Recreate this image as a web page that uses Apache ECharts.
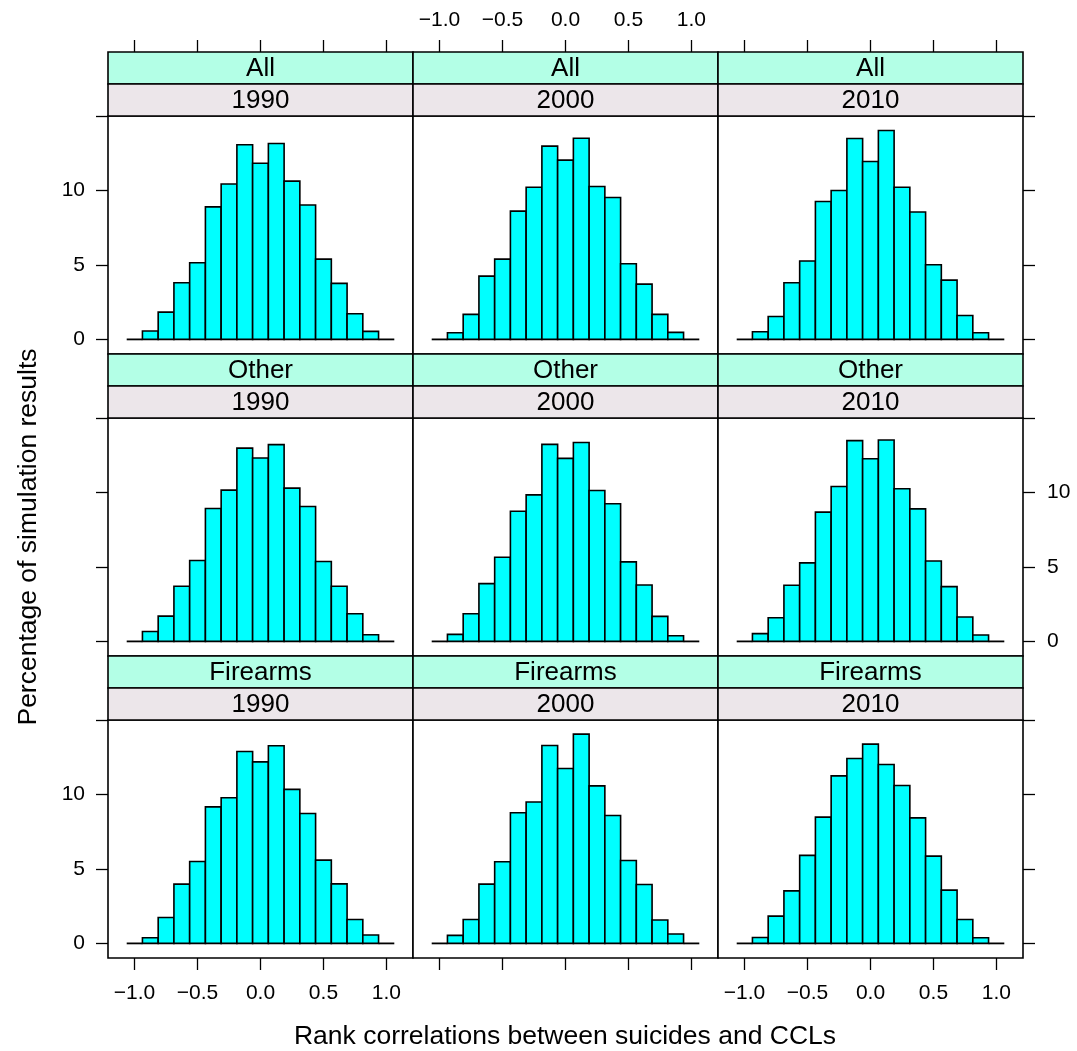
<!DOCTYPE html>
<html>
<head>
<meta charset="utf-8">
<script src="https://cdn.jsdelivr.net/npm/echarts@6/dist/echarts.min.js"></script>
<style>
html,body{margin:0;padding:0;background:#fff;}
#chart{width:1077px;height:1051px;}
</style>
</head>
<body>
<div id="chart"></div>
<script>
// ---------- data ----------
const causes = ['All', 'Other', 'Firearms'];
const years = ['1990', '2000', '2010'];
const binCenters = [-1.0, -0.875, -0.75, -0.625, -0.5, -0.375, -0.25, -0.125, 0.0,
                    0.125, 0.25, 0.375, 0.5, 0.625, 0.75, 0.875, 1.0];
const xTicks = [-1.0, -0.5, 0.0, 0.5, 1.0];
const yTicks = [0, 5, 10];
const yTickMarks = [0, 5, 10, 15];

const all1990 = [0, 0.56, 1.83, 3.80, 5.15, 8.90, 10.43, 13.07, 11.83, 13.15, 10.63, 9.02, 5.39, 3.76, 1.72, 0.54, 0];
const all2000 = [0, 0.45, 1.68, 4.25, 5.39, 8.61, 10.22, 12.98, 12.04, 13.51, 10.27, 9.53, 5.08, 3.71, 1.68, 0.47, 0];
const all2010 = [0, 0.51, 1.54, 3.80, 5.26, 9.26, 10.00, 13.49, 11.95, 14.03, 10.22, 8.55, 5.01, 3.98, 1.61, 0.45, 0];
const other1990 = [0, 0.67, 1.70, 3.70, 5.43, 8.92, 10.16, 12.98, 12.31, 13.21, 10.29, 9.06, 5.36, 3.70, 1.86, 0.45, 0];
const other2000 = [0, 0.47, 1.86, 3.88, 5.65, 8.74, 9.84, 13.23, 12.29, 13.36, 10.13, 9.24, 5.34, 3.79, 1.68, 0.38, 0];
const other2010 = [0, 0.52, 1.59, 3.77, 5.27, 8.68, 10.40, 13.48, 12.26, 13.52, 10.25, 8.90, 5.40, 3.68, 1.64, 0.43, 0];
const firearms1990 = [0, 0.38, 1.74, 3.98, 5.50, 9.17, 9.78, 12.89, 12.19, 13.27, 10.34, 8.72, 5.59, 4.00, 1.61, 0.56, 0];
const firearms2000 = [0, 0.54, 1.61, 3.98, 5.48, 8.77, 9.49, 13.29, 11.74, 14.05, 10.58, 8.59, 5.57, 3.96, 1.57, 0.63, 0];
const firearms2010 = [0, 0.40, 1.83, 3.53, 5.91, 8.48, 11.25, 12.42, 13.38, 12.01, 10.60, 8.43, 5.86, 3.58, 1.61, 0.38, 0];

const panelValues = [
  [all1990, all2000, all2010],
  [other1990, other2000, other2010],
  [firearms1990, firearms2000, firearms2010]
];

// ---------- layout / style ----------
const FONT = '"Liberation Sans", Arial, Helvetica, sans-serif';
const panelLeft0 = 108, panelW = 305, panelH = 238;
const rowTops = [116, 418, 720];
const stripH = 32;
const xMin = -1.211, xMax = 1.211;
const yMin = -0.98, yMax = 15;
const binW = binCenters[1] - binCenters[0];
const tickLen = 12;
const tickStyle = { color: '#000', width: 1.3 };
const labelStyle = { color: '#000', fontSize: 21, fontFamily: FONT };
const stripColors = ['#b3ffe6', '#ece6ea'];

function fmtX(v) {
  const s = Math.abs(v).toFixed(1);
  return v < 0 ? '\u2212' + s : s;
}

const grids = [], xAxes = [], yAxes = [], series = [], graphics = [];

for (let r = 0; r < 3; r++) {
  for (let c = 0; c < 3; c++) {
    const gi = grids.length;
    const left = panelLeft0 + panelW * c;
    const top = rowTops[r];
    grids.push({ left: left, top: top, width: panelW, height: panelH,
      show: true, borderColor: '#000', borderWidth: 1.6, backgroundColor: '#fff' });

    // bottom x axis
    const xi = xAxes.length;
    xAxes.push({
      gridIndex: gi, type: 'value', min: xMin, max: xMax, position: 'bottom',
      axisLine: { show: false, onZero: false }, splitLine: { show: false },
      axisTick: { show: r === 2, customValues: xTicks, length: tickLen, lineStyle: tickStyle },
      axisLabel: Object.assign({ show: r === 2 && c !== 1, customValues: xTicks, formatter: fmtX, margin: 25 }, labelStyle)
    });
    // top x axis (above strips) for first row
    if (r === 0) {
      xAxes.push({
        gridIndex: gi, type: 'value', min: xMin, max: xMax, position: 'top', offset: stripH * 2,
        axisLine: { show: false, onZero: false }, splitLine: { show: false },
        axisTick: { show: true, customValues: xTicks, length: tickLen, lineStyle: tickStyle },
        axisLabel: Object.assign({ show: c === 1, customValues: xTicks, formatter: fmtX, margin: 21 }, labelStyle)
      });
    }
    // y axis
    const yi = yAxes.length;
    if (c === 0) {
      yAxes.push({
        gridIndex: gi, type: 'value', min: yMin, max: yMax, position: 'left',
        axisLine: { show: false, onZero: false }, splitLine: { show: false },
        axisTick: { show: true, customValues: yTickMarks, length: tickLen, lineStyle: tickStyle },
        axisLabel: Object.assign({ show: r !== 1, customValues: yTicks, margin: 23 }, labelStyle)
      });
    } else if (c === 2) {
      yAxes.push({
        gridIndex: gi, type: 'value', min: yMin, max: yMax, position: 'right',
        axisLine: { show: false, onZero: false }, splitLine: { show: false },
        axisTick: { show: true, customValues: yTickMarks, length: tickLen, lineStyle: tickStyle },
        axisLabel: Object.assign({ show: r === 1, customValues: yTicks, margin: 24 }, labelStyle)
      });
    } else {
      yAxes.push({ gridIndex: gi, type: 'value', min: yMin, max: yMax, show: false,
        axisLine: { onZero: false }, splitLine: { show: false } });
    }

    const vals = panelValues[r][c];
    series.push({
      type: 'custom', xAxisIndex: xi, yAxisIndex: yi, silent: true,
      data: binCenters.map((x, k) => [x, vals[k]]),
      encode: { x: 0, y: 1 },
      renderItem: function (params, api) {
        const x = api.value(0), h = api.value(1);
        const p0 = api.coord([x - binW / 2, 0]);
        const p1 = api.coord([x + binW / 2, h]);
        if (h <= 0) {
          return { type: 'line', shape: { x1: p0[0], y1: p0[1], x2: p1[0], y2: p0[1] },
            style: { stroke: '#000', lineWidth: 1.8 } };
        }
        return { type: 'rect',
          shape: { x: p0[0], y: p1[1], width: p1[0] - p0[0], height: p0[1] - p1[1] },
          style: { fill: '#00ffff', stroke: '#000', lineWidth: 1.6 } };
      }
    });

    // strips
    const labels = [causes[r], years[c]];
    for (let s = 0; s < 2; s++) {
      const sy = top - stripH * (2 - s);
      graphics.push({
        type: 'rect', shape: { x: left, y: sy, width: panelW, height: stripH },
        style: { fill: stripColors[s], stroke: '#000', lineWidth: 1.6 }, z: 10
      });
      graphics.push({
        type: 'text', x: left + panelW / 2, y: sy + stripH / 2 + 1,
        style: { text: labels[s], fill: '#000', font: '26px ' + FONT, align: 'center', verticalAlign: 'middle' },
        z: 11
      });
    }
  }
}

graphics.push({
  type: 'text', x: 565, y: 1037,
  style: { text: 'Rank correlations between suicides and CCLs', fill: '#000', font: '26.5px ' + FONT,
    align: 'center', verticalAlign: 'middle' }
});
graphics.push({
  type: 'text', x: 29, y: 537, rotation: Math.PI / 2,
  style: { text: 'Percentage of simulation results', fill: '#000', font: '26.5px ' + FONT,
    align: 'center', verticalAlign: 'middle' }
});

const chart = echarts.init(document.getElementById('chart'), null, { renderer: 'canvas' });
chart.setOption({
  animation: false,
  backgroundColor: '#fff',
  grid: grids,
  xAxis: xAxes,
  yAxis: yAxes,
  series: series,
  graphic: graphics
});
</script>
</body>
</html>
